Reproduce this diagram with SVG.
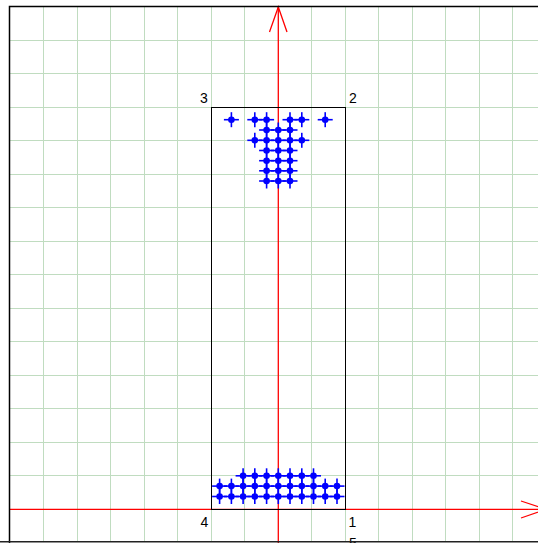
<svg xmlns="http://www.w3.org/2000/svg" xmlns:xlink="http://www.w3.org/1999/xlink" width="538" height="543" viewBox="0 0 538 543">
<style>
.grid{stroke:#c0dcc0;stroke-width:1;fill:none}
.axis{stroke:#ff0000;stroke-width:1.3;fill:none}
.box{stroke:#000;stroke-width:1;fill:none}
.lbl{font-family:"Liberation Sans",Arial,sans-serif;font-size:14px;fill:#000}
.pt line{stroke:#0000ff;stroke-width:1.6}
.pt circle{fill:#0000ff}
</style>
<defs>
<g id="pt" class="pt">
<line x1="-7.5" y1="0" x2="7.5" y2="0"/>
<line x1="0" y1="-7.5" x2="0" y2="7.5"/>
<circle r="3.3"/>
</g>
</defs>
<rect width="538" height="543" fill="#fff"/>
<g id="grid" class="grid">
<path d="M43.5 7V541M77.5 7V541M110.5 7V541M144.5 7V541M177.5 7V541M211.5 7V541M244.5 7V541M311.5 7V541M345.5 7V541M378.5 7V541M412.5 7V541M445.5 7V541M479.5 7V541M512.5 7V541"/>
<path d="M10 40.5H538M10 73.5H538M10 107.5H538M10 140.5H538M10 174.5H538M10 207.5H538M10 241.5H538M10 274.5H538M10 308.5H538M10 341.5H538M10 375.5H538M10 408.5H538M10 442.5H538M10 475.5H538"/>
</g>
<g id="connectors" class="axis">
<path d="M278.3 543V7"/>
<path d="M269.5 32L278.3 7L287 32"/>
<path d="M10 509.3H546"/>
<path d="M521 501L546 509.3L521 518"/>
</g>
<g id="box">
<rect class="box" x="211.5" y="107.5" width="134" height="402"/>
</g>
<g id="labels">
<text class="lbl" x="200" y="102.5">3</text>
<text class="lbl" x="349" y="102.5">2</text>
<text class="lbl" x="200.5" y="526.5">4</text>
<text class="lbl" x="348.5" y="526.5">1</text>
<text class="lbl" x="349" y="548">5</text>
</g>
<g id="top-points">
<use xlink:href="#pt" x="231.4" y="119.7"/><use xlink:href="#pt" x="254.8" y="119.7"/><use xlink:href="#pt" x="266.6" y="119.7"/><use xlink:href="#pt" x="290" y="119.7"/><use xlink:href="#pt" x="301.8" y="119.7"/><use xlink:href="#pt" x="325.2" y="119.7"/>
<use xlink:href="#pt" x="266.6" y="130"/><use xlink:href="#pt" x="278.3" y="130"/><use xlink:href="#pt" x="290" y="130"/>
<use xlink:href="#pt" x="254.8" y="140.3"/><use xlink:href="#pt" x="266.6" y="140.3"/><use xlink:href="#pt" x="278.3" y="140.3"/><use xlink:href="#pt" x="290" y="140.3"/><use xlink:href="#pt" x="301.8" y="140.3"/>
<use xlink:href="#pt" x="266.6" y="150.5"/><use xlink:href="#pt" x="278.3" y="150.5"/><use xlink:href="#pt" x="290" y="150.5"/>
<use xlink:href="#pt" x="266.6" y="160.7"/><use xlink:href="#pt" x="278.3" y="160.7"/><use xlink:href="#pt" x="290" y="160.7"/>
<use xlink:href="#pt" x="266.6" y="170.8"/><use xlink:href="#pt" x="278.3" y="170.8"/><use xlink:href="#pt" x="290" y="170.8"/>
<use xlink:href="#pt" x="266.6" y="181"/><use xlink:href="#pt" x="278.3" y="181"/><use xlink:href="#pt" x="290" y="181"/>
</g>
<g id="bottom-points">
<use xlink:href="#pt" x="243.1" y="475.8"/><use xlink:href="#pt" x="254.8" y="475.8"/><use xlink:href="#pt" x="266.6" y="475.8"/><use xlink:href="#pt" x="278.3" y="475.8"/><use xlink:href="#pt" x="290" y="475.8"/><use xlink:href="#pt" x="301.8" y="475.8"/><use xlink:href="#pt" x="313.5" y="475.8"/>
<use xlink:href="#pt" x="219.6" y="486.1"/><use xlink:href="#pt" x="231.4" y="486.1"/><use xlink:href="#pt" x="243.1" y="486.1"/><use xlink:href="#pt" x="254.8" y="486.1"/><use xlink:href="#pt" x="266.6" y="486.1"/><use xlink:href="#pt" x="278.3" y="486.1"/><use xlink:href="#pt" x="290" y="486.1"/><use xlink:href="#pt" x="301.8" y="486.1"/><use xlink:href="#pt" x="313.5" y="486.1"/><use xlink:href="#pt" x="325.2" y="486.1"/><use xlink:href="#pt" x="337" y="486.1"/>
<use xlink:href="#pt" x="219.6" y="496.5"/><use xlink:href="#pt" x="231.4" y="496.5"/><use xlink:href="#pt" x="243.1" y="496.5"/><use xlink:href="#pt" x="254.8" y="496.5"/><use xlink:href="#pt" x="266.6" y="496.5"/><use xlink:href="#pt" x="278.3" y="496.5"/><use xlink:href="#pt" x="290" y="496.5"/><use xlink:href="#pt" x="301.8" y="496.5"/><use xlink:href="#pt" x="313.5" y="496.5"/><use xlink:href="#pt" x="325.2" y="496.5"/><use xlink:href="#pt" x="337" y="496.5"/>
</g>
<g id="frame" fill="none">
<path d="M9.5 543V6.5H538" stroke="#000" stroke-width="1.5"/>
<path d="M0 541.8H538" stroke="#222" stroke-width="1.5"/>
</g>
</svg>
